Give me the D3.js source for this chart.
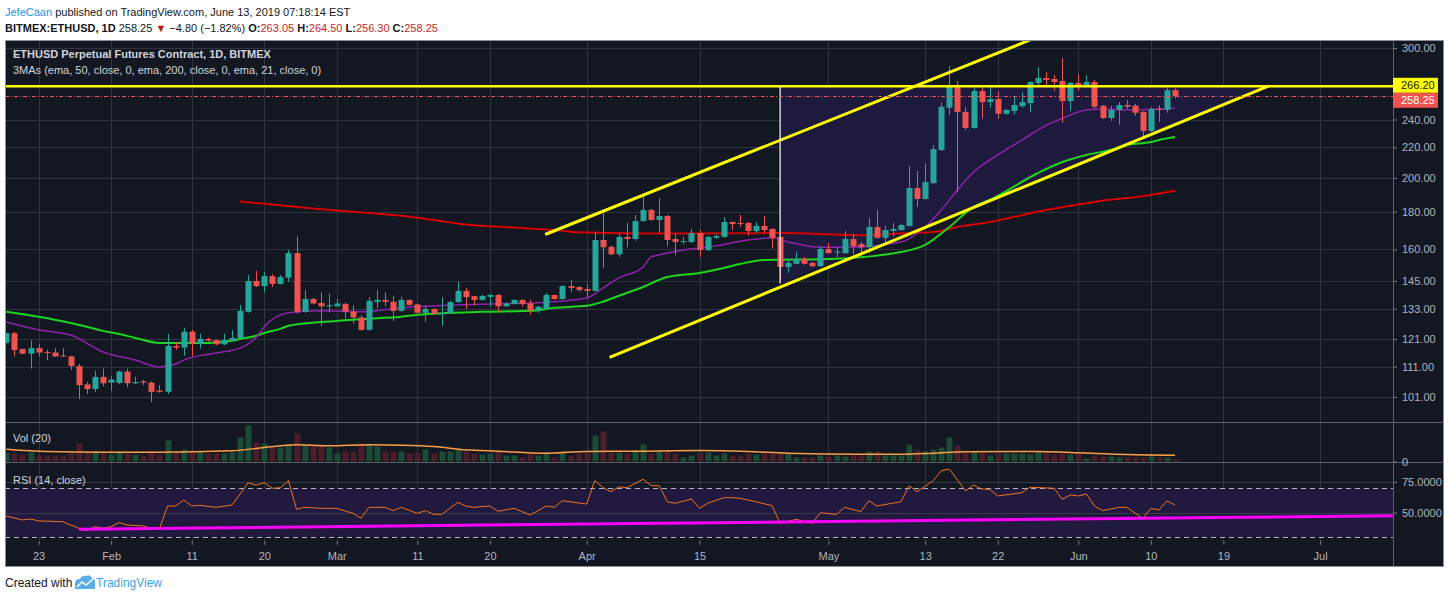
<!DOCTYPE html>
<html>
<head>
<meta charset="utf-8">
<script src="https://cdn.jsdelivr.net/npm/d3@7"></script>
<style>
body { margin: 0; background: #fff; }
svg text { font-family: "Liberation Sans", Arial, sans-serif; }
</style>
</head>
<body>
<svg id="chart" width="1450" height="599"></svg>
<script>
// ---- data (BITMEX:ETHUSD daily, Jan 19 - Jun 13 2019) ----
const startDay = "2019-01-19";
// [open, high, low, close]
const ohlc = [
  [119.6,123.5,119.3,123.2],[123.2,123.7,114.6,116.9],[117.3,117.4,115.4,115.6],[115.6,120.5,110.3,117.6],
  [117.6,119.2,114.6,116.0],[116.2,117.1,113.3,115.9],[116.0,117.6,114.4,114.6],[114.9,117.6,114.4,114.6],
  [114.6,114.8,109.9,111.2],[111.2,112.0,100.3,104.8],[105.0,105.8,101.9,103.5],[103.5,109.6,102.5,107.5],
  [107.5,110.3,104.4,105.4],[105.6,107.8,102.9,106.6],[105.5,109.6,105.0,109.3],[109.3,110.3,104.1,105.4],
  [105.4,107.6,105.1,105.8],[106.0,106.5,104.8,105.6],[105.6,106.0,99.4,102.6],[103.0,104.8,102.3,102.6],
  [102.6,123.0,101.9,118.4],[118.4,119.9,117.0,117.8],[117.8,125.3,114.8,123.8],[123.8,124.5,114.8,119.3],
  [119.3,123.0,117.4,121.0],[121.0,121.4,120.0,120.4],[120.6,120.8,118.7,119.0],[119.0,123.0,118.7,120.6],
  [120.4,124.5,120.2,121.4],[121.4,134.6,121.2,132.1],[131.7,147.8,131.3,145.0],[145.0,149.6,142.3,142.7],
  [142.7,149.1,140.0,147.2],[147.2,148.1,142.3,143.7],[143.7,147.8,143.4,146.8],[146.5,159.7,144.6,158.2],
  [158.2,166.7,130.9,131.7],[131.7,141.0,131.3,137.1],[137.1,137.5,134.8,135.2],[135.4,140.0,126.0,134.0],
  [134.0,139.5,131.4,134.5],[134.0,137.1,133.8,135.2],[135.0,135.5,129.0,131.8],[131.8,134.4,126.9,129.4],
  [129.4,130.2,124.2,124.5],[124.5,137.9,124.2,136.3],[135.8,141.0,133.3,136.7],[136.7,139.9,134.0,135.9],
  [135.9,138.5,128.0,132.1],[132.1,138.0,131.7,136.7],[136.7,136.9,134.3,134.6],[134.8,135.1,130.9,131.3],
  [131.3,134.4,127.6,132.9],[132.9,133.1,130.6,130.9],[130.9,137.9,126.0,131.3],[131.3,136.3,130.9,135.8],
  [135.8,144.6,135.4,140.6],[140.6,141.9,132.9,137.9],[138.3,138.4,134.4,136.7],[136.7,138.9,136.4,138.4],
  [138.0,139.3,134.0,138.8],[138.8,139.3,131.7,134.0],[134.0,135.6,133.8,135.2],[135.0,136.9,134.8,136.7],
  [136.7,136.9,134.0,135.0],[135.2,136.7,130.5,132.5],[132.5,134.2,131.3,133.8],[132.9,139.7,132.7,138.8],
  [138.8,139.0,136.7,137.1],[137.1,143.2,136.7,142.7],[142.7,145.5,140.1,141.9],[142.3,142.7,140.4,141.0],
  [141.4,143.7,137.9,140.6],[140.6,169.1,140.4,164.8],[164.8,179.2,151.0,161.1],[161.3,161.9,157.2,157.6],
  [157.6,168.0,156.3,166.4],[166.4,173.8,161.1,165.3],[165.3,178.2,164.3,174.8],[174.8,189.0,174.5,181.0],
  [181.0,181.6,175.0,175.4],[175.4,188.0,168.3,177.6],[177.6,178.2,161.6,164.8],[165.3,168.0,157.2,163.8],
  [163.8,166.4,162.7,164.3],[163.8,170.6,163.3,168.4],[168.4,170.0,156.3,159.7],[159.7,166.9,159.2,166.4],
  [166.0,167.4,165.3,166.9],[166.4,177.0,166.0,174.3],[174.3,174.6,170.0,173.2],[173.8,178.2,171.6,173.2],
  [173.8,174.3,166.9,169.5],[169.5,174.3,168.4,172.2],[172.2,177.6,168.4,170.0],[170.6,170.8,160.6,165.9],
  [166.4,166.6,145.5,151.5],[151.5,155.3,148.7,153.4],[153.0,158.7,152.8,155.3],[155.3,156.3,152.5,153.0],
  [153.4,153.8,151.5,151.9],[151.9,161.6,151.5,160.2],[160.2,163.3,157.9,158.2],[158.5,161.1,156.3,158.9],
  [158.2,169.5,157.9,165.3],[165.3,168.0,157.6,161.6],[162.7,163.8,156.3,161.1],[161.1,176.5,158.2,171.6],
  [171.6,181.0,165.6,165.9],[165.9,172.2,163.8,170.0],[169.5,173.8,166.4,170.6],[170.0,173.2,169.7,172.7],
  [172.2,207.6,171.9,193.8],[193.8,204.4,182.7,187.3],[187.3,209.4,186.7,197.4],[196.8,221.6,196.2,218.8],
  [218.2,253.1,217.5,249.8],[249.0,283.5,243.4,266.5],[266.5,270.6,191.3,245.8],[245.8,249.8,232.3,233.8],
  [233.8,265.6,233.2,262.3],[262.3,265.6,240.4,253.4],[253.4,265.6,248.8,255.8],[255.8,262.3,240.4,244.3],
  [244.3,248.0,243.5,247.3],[246.5,257.4,243.6,251.1],[250.3,261.5,248.8,253.4],[252.6,270.5,245.8,269.8],
  [269.0,282.7,267.3,273.2],[273.2,278.3,267.3,271.5],[272.4,275.7,262.3,269.8],[270.6,290.8,237.6,254.2],
  [254.2,269.8,246.5,269.0],[269.0,276.5,262.3,267.3],[267.3,275.7,265.6,269.8],[269.8,271.5,248.2,249.8],
  [250.6,251.0,240.5,241.1],[241.1,250.6,238.9,247.3],[247.3,253.4,236.0,251.1],[251.1,255.0,248.2,249.8],
  [250.6,252.0,242.8,245.1],[245.8,246.1,227.1,231.6],[231.6,249.8,230.9,248.0],[248.0,251.1,238.3,247.3],
  [247.3,266.2,245.1,263.05],[263.05,264.50,256.30,258.25]
];
const volumes = [
  9,8,7,9,6,6,6,6,8,18,9,10,8,7,9,8,7,6,10,7,21,9,12,11,10,8,8,8,9,24,36,19,18,14,14,17,28,16,16,16,
  14,8,10,10,17,17,15,10,10,10,8,8,12,8,10,10,12,10,8,7,8,10,6,6,4,8,6,9,4,8,6,8,8,26,30,9,9,8,11,17,
  8,11,10,8,4,6,8,9,6,8,6,6,8,7,8,8,8,8,4,4,4,6,5,6,5,6,6,10,10,6,6,6,17,12,10,12,14,24,16,9,
  10,9,6,8,8,8,8,7,10,10,7,8,7,8,3,6,5,5,4,4,4,4,5,4,4,2
];
const volumeMA = [
  ["2019-01-19",12.3],["2019-01-24",10.0],["2019-01-31",9.3],["2019-02-07",9.3],["2019-02-16",10.7],
  ["2019-02-20",14.0],["2019-02-24",16.7],["2019-02-28",15.7],["2019-03-05",16.7],["2019-03-09",16.3],
  ["2019-03-13",15.0],["2019-03-17",11.7],["2019-03-21",10.3],["2019-03-27",8.3],["2019-04-01",10.0],
  ["2019-04-07",10.3],["2019-04-15",11.0],["2019-04-21",10.0],["2019-04-26",8.3],["2019-05-05",7.3],
  ["2019-05-10",7.3],["2019-05-14",8.3],["2019-05-18",9.7],["2019-05-27",10.0],["2019-06-01",8.7],
  ["2019-06-07",7.0],["2019-06-13",6.3]
];
const ema21 = [
  ["2019-01-19",127.6],["2019-01-23",124.5],["2019-01-27",122.5],["2019-01-31",116.2],["2019-02-04",113.3],
  ["2019-02-07",110.9],["2019-02-09",111.9],["2019-02-10",113.3],["2019-02-14",115.8],["2019-02-17",117.6],
  ["2019-02-19",121.7],["2019-02-20",125.7],["2019-02-23",131.3],["2019-02-27",132.1],["2019-03-04",131.7],
  ["2019-03-09",133.4],["2019-03-20",135.0],["2019-03-26",135.5],["2019-04-01",137.5],["2019-04-03",141.8],
  ["2019-04-05",146.4],["2019-04-08",151.5],["2019-04-09",156.3],["2019-04-10",157.3],["2019-04-13",159.7],
  ["2019-04-17",161.8],["2019-04-21",164.8],["2019-04-24",165.9],["2019-04-26",163.8],["2019-04-30",161.1],
  ["2019-05-03",161.1],["2019-05-10",163.8],["2019-05-13",171.6],["2019-05-15",181.0],["2019-05-17",192.6],
  ["2019-05-19",203.7],["2019-05-22",214.9],["2019-05-25",225.1],["2019-05-28",235.6],["2019-05-30",240.8],
  ["2019-06-02",247.3],["2019-06-04",248.0],["2019-06-07",247.3],["2019-06-11",248.0],["2019-06-13",248.8]
];
const ema50 = [
  ["2019-01-19",131.7],["2019-01-23",129.7],["2019-01-27",127.2],["2019-01-29",125.7],["2019-01-31",124.1],
  ["2019-02-02",122.9],["2019-02-04",121.4],["2019-02-07",119.5],["2019-02-13",119.5],["2019-02-16",120.3],
  ["2019-02-17",121.0],["2019-02-19",122.2],["2019-02-20",123.3],["2019-02-22",124.9],["2019-02-23",126.1],
  ["2019-02-27",127.6],["2019-03-01",128.0],["2019-03-04",128.8],["2019-03-09",129.7],["2019-03-11",130.5],
  ["2019-03-19",131.7],["2019-03-25",132.1],["2019-03-28",133.4],["2019-04-01",134.2],["2019-04-03",135.9],
  ["2019-04-05",138.5],["2019-04-08",142.3],["2019-04-11",146.8],["2019-04-15",148.7],["2019-04-18",151.0],
  ["2019-04-20",152.9],["2019-04-23",154.8],["2019-05-01",155.3],["2019-05-10",158.7],["2019-05-13",162.3],
  ["2019-05-16",171.6],["2019-05-19",182.7],["2019-05-21",186.7],["2019-05-27",203.1],["2019-05-30",210.2],
  ["2019-06-02",214.9],["2019-06-05",218.2],["2019-06-07",221.6],["2019-06-10",223.7],["2019-06-11",225.1],
  ["2019-06-13",227.2]
];
const ema200 = [
  ["2019-02-17",185.8],["2019-02-27",181.4],["2019-03-11",176.7],["2019-03-17",173.0],["2019-03-23",171.3],
  ["2019-03-28",170.0],["2019-03-31",168.8],["2019-04-08",168.2],["2019-04-15",168.2],["2019-04-25",168.4],
  ["2019-05-05",167.3],["2019-05-11",168.4],["2019-05-14",168.9],["2019-05-17",171.6],["2019-05-21",174.3],
  ["2019-05-28",181.0],["2019-06-03",185.6],["2019-06-10",189.7],["2019-06-13",192.1]
];
const rsi = [
  ["2019-01-19",47.1],["2019-01-21",43.9],["2019-01-22",44.7],["2019-01-23",43.1],["2019-01-26",42.5],
  ["2019-01-28",37.1],["2019-01-29",35.1],["2019-01-30",38.4],["2019-01-31",37.1],["2019-02-01",38.4],
  ["2019-02-02",41.7],["2019-02-03",39.8],["2019-02-05",39.0],["2019-02-06",36.8],["2019-02-07",36.8],
  ["2019-02-08",55.3],["2019-02-09",55.3],["2019-02-10",60.2],["2019-02-11",55.3],["2019-02-12",55.9],
  ["2019-02-14",54.2],["2019-02-16",56.1],["2019-02-18",74.3],["2019-02-19",72.2],["2019-02-20",74.3],
  ["2019-02-21",69.8],["2019-02-22",70.2],["2019-02-23",76.0],["2019-02-24",52.6],["2019-02-25",54.2],
  ["2019-02-27",53.4],["2019-03-01",53.4],["2019-03-03",49.3],["2019-03-04",45.3],["2019-03-05",54.2],
  ["2019-03-07",54.2],["2019-03-08",51.5],["2019-03-09",54.2],["2019-03-11",49.3],["2019-03-12",51.5],
  ["2019-03-13",48.5],["2019-03-14",48.5],["2019-03-16",58.3],["2019-03-17",55.3],["2019-03-18",54.2],
  ["2019-03-20",55.3],["2019-03-21",51.0],["2019-03-23",53.4],["2019-03-25",48.0],["2019-03-27",55.3],
  ["2019-03-28",54.2],["2019-03-29",59.6],["2019-04-01",56.9],["2019-04-02",76.0],["2019-04-03",70.5],
  ["2019-04-04",67.0],["2019-04-05",71.0],["2019-04-06",70.2],["2019-04-08",77.1],["2019-04-09",71.9],
  ["2019-04-10",71.9],["2019-04-11",58.8],["2019-04-12",57.5],["2019-04-14",61.0],["2019-04-15",53.4],
  ["2019-04-16",57.5],["2019-04-18",62.1],["2019-04-19",62.1],["2019-04-20",61.6],["2019-04-22",58.8],
  ["2019-04-24",55.6],["2019-04-25",41.2],["2019-04-27",44.4],["2019-04-29",41.2],["2019-04-30",49.8],
  ["2019-05-02",48.5],["2019-05-03",54.2],["2019-05-05",50.7],["2019-05-06",59.6],["2019-05-07",55.3],
  ["2019-05-10",58.8],["2019-05-11",71.9],["2019-05-12",67.0],["2019-05-14",76.0],["2019-05-15",84.1],
  ["2019-05-16",85.5],["2019-05-17",76.5],["2019-05-18",67.6],["2019-05-19",72.4],["2019-05-20",69.2],
  ["2019-05-21",68.9],["2019-05-22",63.5],["2019-05-25",66.2],["2019-05-26",70.6],["2019-05-29",69.8],
  ["2019-05-30",60.8],["2019-05-31",64.3],["2019-06-01",63.5],["2019-06-02",65.1],["2019-06-03",55.3],
  ["2019-06-04",51.5],["2019-06-06",54.2],["2019-06-07",54.2],["2019-06-09",45.3],["2019-06-10",53.4],
  ["2019-06-11",52.0],["2019-06-12",59.4],["2019-06-13",56.1]
];
// drawings
const rsiTrend = [["2019-01-28",36.3],["2019-07-10",47.4]];
const channelUpper = [["2019-03-27",167.9],["2019-05-26",307.6]];
const channelLower = [["2019-04-04",114.4],["2019-06-24 12:00",266.2]];
const wedge = [["2019-04-25",266.2],["2019-04-25",143.9],["2019-06-24 12:00",266.2]];
const resistance = 266.2;
const lastPrice = 258.25;

const priceTicks = [101, 111, 121, 133, 145, 160, 180, 200, 220, 240, 300];
const rsiTicks = [50, 75];
const timeTicks = ["2019-01-23","2019-02-01","2019-02-11","2019-02-20","2019-03-01","2019-03-11","2019-03-20",
  "2019-04-01","2019-04-15","2019-05-01","2019-05-13","2019-05-22","2019-06-01","2019-06-10","2019-06-19","2019-07-01"];
const timeLabels = ["23","Feb","11","20","Mar","11","20","Apr","15","May","13","22","Jun","10","19","Jul"];

// ---- layout ----
const left = 5, plotRight = 1393, outerRight = 1443;
const mainTop = 40, mainBottom = 422, volBottom = 462, rsiBottom = 541, frameBottom = 566;
const UP = "#26a69a", DOWN = "#ef5350";

const parseDay = d3.utcParse("%Y-%m-%d");
const parseHour = d3.utcParse("%Y-%m-%d %H:%M");
const toDate = s => parseDay(s) || parseHour(s);

const x = d3.scaleUtc()
  .domain([toDate("2019-01-18 20:00"), toDate("2019-07-10 01:00")])
  .range([left, plotRight]);
const y = d3.scaleLog().domain([93.39, 307.58]).range([mainBottom, mainTop]);
const yVol = d3.scaleLinear().domain([0, 39.5]).range([461.5, mainBottom]);
const yRsi = d3.scaleLinear().domain([27.55, 90.41]).range([rsiBottom - 1, volBottom + 1]);

const start = toDate(startDay);
const candles = ohlc.map((d, i) => ({
  date: d3.utcDay.offset(start, i), o: d[0], h: d[1], l: d[2], c: d[3], v: volumes[i]
}));
const col = d => d.c >= d.o ? UP : DOWN;

const svg = d3.select("#chart");
const defs = svg.append("defs");
function clip(id, top, bottom) {
  defs.append("clipPath").attr("id", id).append("rect")
    .attr("x", left).attr("y", top).attr("width", plotRight - left).attr("height", bottom - top);
}
clip("clipMain", mainTop, mainBottom);
clip("clipVol", mainBottom, volBottom);
clip("clipRsi", volBottom, rsiBottom);

svg.append("rect").attr("width", 1450).attr("height", 599).attr("fill", "#fff");

// ---- header ----
const h1 = svg.append("text").attr("x", 5).attr("y", 16).attr("font-size", 11).attr("fill", "#131722");
h1.append("tspan").attr("fill", "#2196f3").text("JefeCaan");
h1.append("tspan").text(" published on TradingView.com, June 13, 2019 07:18:14 EST");

const h2 = svg.append("text").attr("x", 5).attr("y", 32).attr("font-size", 11).attr("fill", "#131722");
h2.append("tspan").attr("font-weight", "bold").text("BITMEX:ETHUSD, 1D");
h2.append("tspan").text(" 258.25 ");
h2.append("tspan").attr("fill", "#b71c1c").text("▼");
h2.append("tspan").text(" −4.80 (−1.82%) ");
[["O:", "263.05"], ["H:", "264.50"], ["L:", "256.30"], ["C:", "258.25"]].forEach(([k, v], i) => {
  h2.append("tspan").attr("font-weight", "bold").text((i ? " " : "") + k);
  h2.append("tspan").attr("fill", "#c62828").text(v);
});

// ---- chart background ----
svg.append("rect").attr("x", left).attr("y", mainTop).attr("width", outerRight - left)
  .attr("height", frameBottom - mainTop).attr("fill", "#131722");

const grid = svg.append("g").attr("stroke", "#30343f").attr("stroke-width", 1).attr("shape-rendering", "crispEdges");
grid.selectAll("line.v").data(timeTicks).enter().append("line")
  .attr("x1", d => Math.round(x(toDate(d))) + 0.5).attr("x2", d => Math.round(x(toDate(d))) + 0.5)
  .attr("y1", mainTop).attr("y2", rsiBottom);
grid.selectAll("line.h").data(priceTicks).enter().append("line")
  .attr("x1", left).attr("x2", plotRight)
  .attr("y1", d => Math.round(y(d)) + 0.5).attr("y2", d => Math.round(y(d)) + 0.5);

// ---- main pane ----
const main = svg.append("g").attr("clip-path", "url(#clipMain)");

main.append("path")
  .attr("d", d3.line().x(d => x(toDate(d[0]))).y(d => y(d[1]))(wedge) + "Z")
  .attr("fill", "#1e1a3d");

function maLine(data, color, width) {
  main.append("path").datum(data)
    .attr("d", d3.line().x(d => x(toDate(d[0]))).y(d => y(d[1])).curve(d3.curveMonotoneX))
    .attr("fill", "none").attr("stroke", color).attr("stroke-width", width);
}
maLine(ema200, "#d50000", 2);
maLine(ema50, "#1fd51f", 2);
maLine(ema21, "#8e24aa", 1.5);

const cg = main.selectAll("g.candle").data(candles).enter().append("g");
cg.append("line")
  .attr("x1", d => Math.round(x(d.date)) + 0.5).attr("x2", d => Math.round(x(d.date)) + 0.5)
  .attr("y1", d => y(d.h)).attr("y2", d => y(d.l))
  .attr("stroke", col).attr("stroke-width", 1);
cg.append("rect")
  .attr("x", d => Math.round(x(d.date)) - 2.5).attr("width", 6)
  .attr("y", d => y(Math.max(d.o, d.c)))
  .attr("height", d => Math.max(1, Math.abs(y(d.o) - y(d.c))))
  .attr("fill", col);

// drawings
const drawLine = d3.line().x(d => x(toDate(d[0]))).y(d => y(d[1]));
[channelUpper, channelLower].forEach(seg => {
  main.append("path").attr("d", drawLine(seg)).attr("stroke", "#ffff00").attr("stroke-width", 3)
    .attr("fill", "none").attr("stroke-linecap", "round");
});
main.append("line").attr("x1", left).attr("x2", plotRight).attr("y1", y(resistance)).attr("y2", y(resistance))
  .attr("stroke", "#ffff00").attr("stroke-width", 2.5);
main.append("line")
  .attr("x1", x(toDate(wedge[0][0]))).attr("x2", x(toDate(wedge[1][0])))
  .attr("y1", y(wedge[0][1])).attr("y2", y(wedge[1][1]))
  .attr("stroke", "#ffffff").attr("stroke-width", 1.2);
main.append("line").attr("x1", left).attr("x2", plotRight)
  .attr("y1", Math.round(y(lastPrice)) + 0.5).attr("y2", Math.round(y(lastPrice)) + 0.5)
  .attr("stroke", DOWN).attr("stroke-width", 1).attr("stroke-dasharray", "4,2,1,2");

// ---- volume pane ----
const vol = svg.append("g").attr("clip-path", "url(#clipVol)");
vol.selectAll("rect").data(candles).enter().append("rect")
  .attr("x", d => Math.round(x(d.date)) - 2.5).attr("width", 6)
  .attr("y", d => yVol(d.v)).attr("height", d => yVol(0) - yVol(d.v))
  .attr("fill", d => d.c >= d.o ? "#1c4a36" : "#4a1e2b");
vol.append("path").datum(volumeMA)
  .attr("d", d3.line().x(d => x(toDate(d[0]))).y(d => yVol(d[1])).curve(d3.curveMonotoneX))
  .attr("fill", "none").attr("stroke", "#ff9e45").attr("stroke-width", 1.5);

// ---- RSI pane ----
const rp = svg.append("g").attr("clip-path", "url(#clipRsi)");
rp.append("rect").attr("x", left).attr("width", plotRight - left)
  .attr("y", yRsi(70)).attr("height", yRsi(30) - yRsi(70)).attr("fill", "#221a3e");
rp.selectAll("line.g").data(rsiTicks).enter().append("line")
  .attr("x1", left).attr("x2", plotRight)
  .attr("y1", d => Math.round(yRsi(d)) + 0.5).attr("y2", d => Math.round(yRsi(d)) + 0.5)
  .attr("stroke", "#363a4a");
rp.selectAll("line.b").data([70, 30]).enter().append("line")
  .attr("x1", left).attr("x2", plotRight)
  .attr("y1", d => Math.round(yRsi(d)) + 0.5).attr("y2", d => Math.round(yRsi(d)) + 0.5)
  .attr("stroke", "#b2b5be").attr("stroke-dasharray", "5,4");
rp.append("path").datum(rsi)
  .attr("d", d3.line().x(d => x(toDate(d[0]))).y(d => yRsi(d[1])))
  .attr("fill", "none").attr("stroke", "#f0731f").attr("stroke-width", 1);
rp.append("path").datum(rsiTrend)
  .attr("d", d3.line().x(d => x(toDate(d[0]))).y(d => yRsi(d[1])))
  .attr("stroke", "#ff00ff").attr("stroke-width", 3);

// ---- separators and frame ----
const sep = svg.append("g").attr("stroke", "#5d606b").attr("shape-rendering", "crispEdges");
[mainBottom, volBottom].forEach(v => sep.append("line")
  .attr("x1", left).attr("x2", outerRight).attr("y1", v + 0.5).attr("y2", v + 0.5));
sep.append("line").attr("x1", plotRight + 0.5).attr("x2", plotRight + 0.5).attr("y1", mainTop).attr("y2", frameBottom);
svg.append("rect").attr("x", left + 0.5).attr("y", mainTop + 0.5)
  .attr("width", outerRight - left).attr("height", frameBottom - mainTop)
  .attr("fill", "none").attr("stroke", "#8a8e97").attr("shape-rendering", "crispEdges");

// ---- axes ----
function styleAxis(g) {
  g.select(".domain").remove();
  g.selectAll(".tick line").attr("stroke", "#787b86");
  g.selectAll(".tick text").attr("fill", "#b2b5be").attr("font-size", 11)
    .attr("font-family", "Liberation Sans, Arial, sans-serif");
}
svg.append("g").attr("transform", `translate(${plotRight},0)`)
  .call(d3.axisRight(y).tickValues(priceTicks).tickFormat(d3.format(".2f")).tickSize(4).tickPadding(5))
  .call(styleAxis);
svg.append("g").attr("transform", `translate(${plotRight},0)`)
  .call(d3.axisRight(yVol).tickValues([0]).tickFormat(d3.format("d")).tickSize(4).tickPadding(5))
  .call(styleAxis);
svg.append("g").attr("transform", `translate(${plotRight},0)`)
  .call(d3.axisRight(yRsi).tickValues(rsiTicks).tickFormat(d3.format(".4f")).tickSize(4).tickPadding(5))
  .call(styleAxis);
svg.append("g").attr("transform", `translate(0,${rsiBottom})`)
  .call(d3.axisBottom(x).tickValues(timeTicks.map(toDate)).tickFormat((d, i) => timeLabels[i]).tickSize(4).tickPadding(7))
  .call(styleAxis);

// price labels on the axis
function priceTag(v, fill, textFill, cy) {
  svg.append("rect").attr("x", plotRight).attr("y", cy - 7.5).attr("width", 45).attr("height", 15).attr("fill", fill);
  svg.append("text").attr("x", plotRight + 8).attr("y", cy + 4).attr("font-size", 11)
    .attr("fill", textFill).text(d3.format(".2f")(v));
}
priceTag(resistance, "#ffff00", "#131722", y(resistance) - 1);
priceTag(lastPrice, DOWN, "#ffffff", y(resistance) + 14);

// pane titles
const titles = svg.append("g").attr("font-size", 11).attr("fill", "#d1d4dc");
titles.append("text").attr("x", 13).attr("y", 58).attr("font-weight", "bold").text("ETHUSD Perpetual Futures Contract, 1D, BITMEX");
titles.append("text").attr("x", 13).attr("y", 74).text("3MAs (ema, 50, close, 0, ema, 200, close, 0, ema, 21, close, 0)");
titles.append("text").attr("x", 13).attr("y", 442).text("Vol (20)");
titles.append("text").attr("x", 13).attr("y", 484).text("RSI (14, close)");

// ---- footer ----
svg.append("text").attr("x", 5).attr("y", 587).attr("font-size", 12).attr("fill", "#131722").text("Created with");
svg.append("path")
  .attr("d", "M75,589 L75,584 Q75,579 80,579 Q82,575 86,576 Q90,574 92,578 Q96,579 95,584 L95,589 Z")
  .attr("fill", "#5aaee8");
svg.append("path").attr("d", "M77,587 L82,582 L86,585 L93,579")
  .attr("fill", "none").attr("stroke", "#fff").attr("stroke-width", 1.5);
svg.append("text").attr("x", 96).attr("y", 587).attr("font-size", 12).attr("fill", "#3fa2e8").text("TradingView");
</script>
</body>
</html>
